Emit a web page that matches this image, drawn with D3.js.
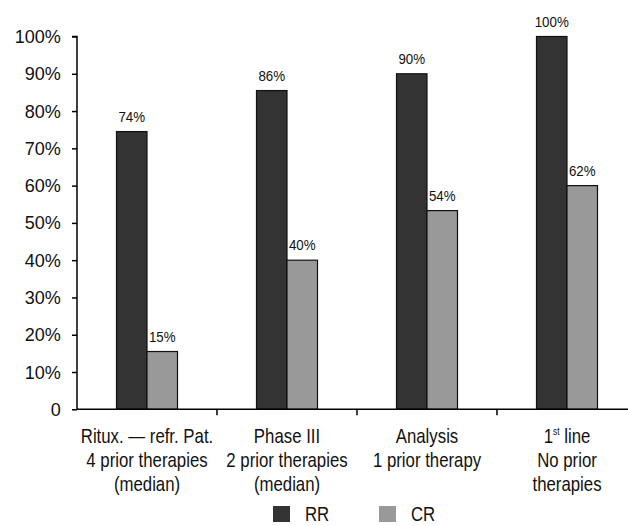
<!DOCTYPE html>
<html><head><meta charset="utf-8">
<script src="https://cdn.jsdelivr.net/npm/d3@7"></script>
<style>
body{margin:0;background:#fff;}
svg{display:block;}
</style></head>
<body>
<svg id="chart" width="628" height="526"></svg>
<script>
const categories = ["c1","c2","c3","c4"];
const categoryLines = [
  ["Ritux. \u2014 refr. Pat.","4 prior therapies","(median)"],
  ["Phase III","2 prior therapies","(median)"],
  ["Analysis","1 prior therapy"],
  ["1|st| line","No prior","therapies"]
];
const series = ["RR","CR"];
const rrValues = [74.5, 85.5, 90, 100];
const crValues = [15.5, 40, 53.3, 60];
const rrLabels = ["74%","86%","90%","100%"];
const crLabels = ["15%","40%","54%","62%"];
const yTicks = [0,10,20,30,40,50,60,70,80,90,100];
const yTickLabels = ["0","10%","20%","30%","40%","50%","60%","70%","80%","90%","100%"];
const colors = {RR:"#333333", CR:"#999999"};

const svg = d3.select("#chart");
const sans = "'Liberation Sans',Arial,sans-serif";
const SX = 0.84;

const x0 = d3.scaleBand().domain(categories).range([77, 637]).padding(0);
const bw = x0.bandwidth();
const x1 = d3.scaleBand().domain(series).range([bw/2 - 30.5, bw/2 + 30.5]).padding(0);
const y = d3.scaleLinear().domain([0,100]).range([409.3, 36.5]);

// y axis
const yAxis = d3.axisLeft(y).tickValues(yTicks).tickSize(5).tickPadding(12)
  .tickFormat((d,i)=>yTickLabels[i]);
const gy = svg.append("g").attr("transform","translate(77,0)").call(yAxis);
gy.select(".domain").attr("stroke","#000").attr("stroke-width",1.5).attr("d","M-5,36.5H0V409.3");
gy.selectAll(".tick line").attr("stroke","#000").attr("stroke-width",1.5);
gy.selectAll(".tick text").attr("font-family",sans).attr("font-size","19px").attr("fill","#111")
  .attr("transform","scale(0.95,1)");

// bars
const data = categories.map((c,i)=>({c, vals:[
  {s:"RR", v:rrValues[i], l:rrLabels[i]},
  {s:"CR", v:crValues[i], l:crLabels[i]}]}));
const groups = svg.append("g").selectAll("g").data(data).join("g")
  .attr("transform", d=>`translate(${x0(d.c)},0)`);
groups.selectAll("rect").data(d=>d.vals).join("rect")
  .attr("x", d=>x1(d.s)).attr("width", x1.bandwidth())
  .attr("y", d=>y(d.v)).attr("height", d=>y(0)-y(d.v))
  .attr("fill", d=>colors[d.s]).attr("stroke","#111").attr("stroke-width",1.2);
groups.selectAll("text").data(d=>d.vals).join("text")
  .attr("transform", d=>`translate(${x1(d.s)+x1.bandwidth()/2},${y(d.v)-10}) scale(0.92,1)`)
  .attr("text-anchor","middle").attr("font-family",sans).attr("font-size","14.5px")
  .attr("fill","#111").text(d=>d.l);

// x axis
const xAxis = d3.axisBottom(x0).tickSize(0).tickFormat("");
const gx = svg.append("g").attr("transform",`translate(0,${y(0)})`).call(xAxis);
gx.select(".domain").attr("stroke","#000").attr("stroke-width",1.5).attr("d","M77,0H637");
gx.selectAll(".tick").remove();
svg.append("g").selectAll("line").data(categories.slice(1).concat(["end"])).join("line")
  .attr("x1",(d,i)=>77+bw*(i+1)).attr("x2",(d,i)=>77+bw*(i+1))
  .attr("y1",y(0)).attr("y2",y(0)+6).attr("stroke","#000").attr("stroke-width",1.5);

// category labels
categories.forEach((c,i)=>{
  const cx = x0(c)+bw/2;
  const g = svg.append("g").attr("transform",`translate(${cx},0) scale(${SX},1)`);
  const t = g.append("text").attr("text-anchor","middle")
    .attr("font-family",sans).attr("font-size","20px").attr("fill","#111");
  categoryLines[i].forEach((line,j)=>{
    const tl = t.append("tspan").attr("x",0).attr("y",443+24*j);
    const parts = line.split("|");
    if(parts.length===3){
      tl.append("tspan").text(parts[0]);
      tl.append("tspan").attr("font-size","10px").attr("dy",-8).text(parts[1]);
      tl.append("tspan").attr("dy",8).text(parts[2]);
    } else tl.text(line);
  });
});

// legend
const leg = svg.append("g");
const legX = [273, 379];
series.forEach((s,i)=>{
  leg.append("rect").attr("x",legX[i]).attr("y",506).attr("width",17).attr("height",16)
    .attr("fill",colors[s]);
  leg.append("g").attr("transform",`translate(${legX[i]+32},521) scale(${SX},1)`)
    .append("text").attr("font-family",sans)
    .attr("font-size","20px").attr("fill","#111").text(s);
});
</script>
</body></html>
